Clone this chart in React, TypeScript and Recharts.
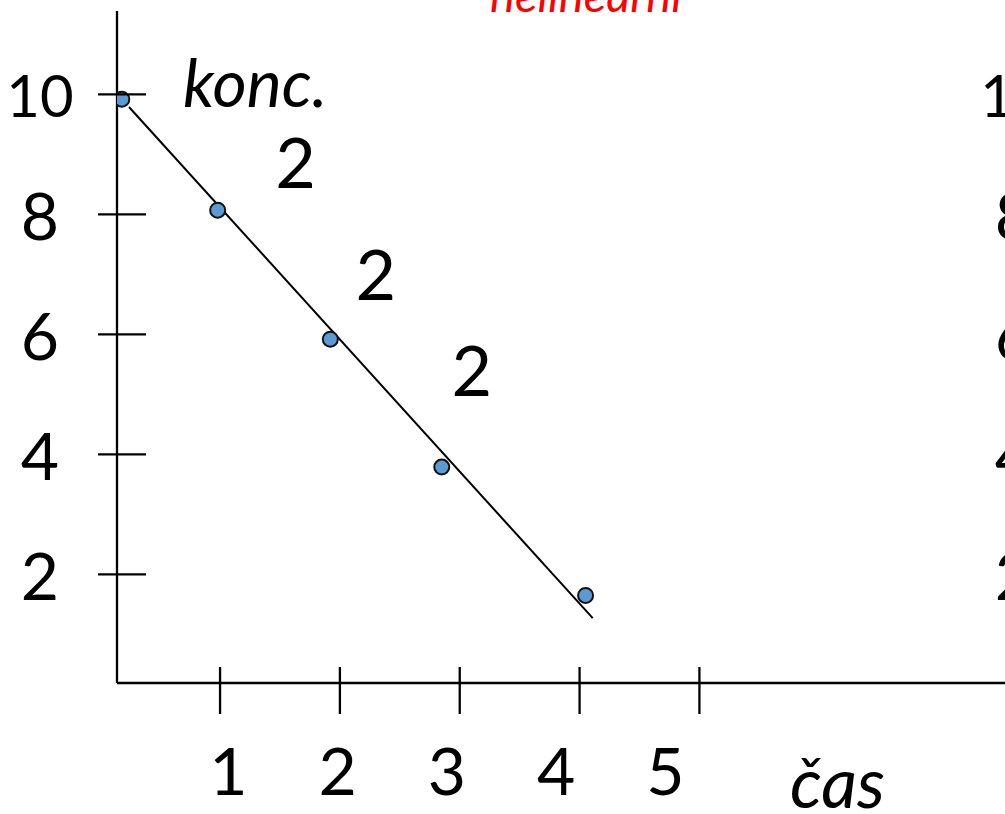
import { ScatterChart, Scatter, XAxis, YAxis, ReferenceLine, ReferenceDot } from 'recharts';

const FONT = "Lato, 'Open Sans', sans-serif";

// axis ticks
const timeTicks = [1, 2, 3, 4, 5];
const concTicks = [2, 4, 6, 8, 10];

// measured concentration over time
const times = [0.18, 0.98, 1.92, 2.85, 4.05];
const concentrations = [9.92, 8.07, 5.92, 3.79, 1.65];

// hand-fitted straight line through the points (start, end)
const fitTimes = [0.24, 4.11];
const fitConcs = [9.79, 1.27];

// concentration drop per step, written next to the line
const stepLabels = ['2', '2', '2'];
const stepTimes = [1.63, 2.3, 3.1];
const stepConcs = [8.85, 6.99, 5.39];

const points = times.map((t, i) => ({ t, c: concentrations[i] }));
const fitSegment = fitTimes.map((t, i) => ({ x: t, y: fitConcs[i] }));
// the number row under the time axis has its own spacing; give that axis its values
const labelAnchors = timeTicks.map((t) => ({ t, c: 1 }));

const AXIS_STROKE = { stroke: '#000', strokeWidth: 2.3 };

// axis ids: 0 = time axis with tick marks, 1 = its number labels
const TIME_AXIS = 0;
const TIME_LABEL_AXIS = 1;

const ConcTick = (props: any) => {
  const { x, y, payload } = props;
  const label = String(payload.value);
  const size = label.length > 1 ? 58 : 66;
  return (
    <g>
      <line x1={x - 19} x2={x + 29} y1={y} y2={y} {...AXIS_STROKE} />
      <text x={x - 77} y={y + size * 0.358 + 2} textAnchor="middle" fontSize={size} fontFamily={FONT} fill="#000">
        {label}
      </text>
    </g>
  );
};

// labels of the neighbouring chart, cut by the right edge
const NextConcTick = (props: any) => {
  const { x, y, payload } = props;
  const label = String(payload.value);
  const size = label.length > 1 ? 58 : 66;
  return (
    <text x={x + 9} y={y + size * 0.358 + 2} textAnchor="middle" fontSize={size} fontFamily={FONT} fill="#000">
      {label}
    </text>
  );
};

const TimeTick = (props: any) => {
  const { x, y } = props;
  return <line x1={x} x2={x} y1={y - 16} y2={y + 31} {...AXIS_STROKE} />;
};

const TimeLabel = (props: any) => {
  const { x, y, payload } = props;
  return (
    <text x={x} y={y + 72} textAnchor="middle" fontSize={66} fontFamily={FONT} fill="#000">
      {payload.value}
    </text>
  );
};

const renderPoint = (props: any) => (
  <circle cx={props.cx} cy={props.cy} r={7.5} fill="#5b9bd5" stroke="#111" strokeWidth={2} />
);

const renderNothing = () => <g />;

export default function App() {
  return (
    <div style={{ position: 'absolute', left: 0, top: 0, width: 1005, height: 814, background: '#fff', overflow: 'hidden' }}>
      <ScatterChart width={1005} height={814} margin={{ top: 11, right: -1, bottom: 0, left: 0 }}>
        <XAxis
          xAxisId={TIME_AXIS}
          type="number"
          dataKey="t"
          domain={[0.14, 7.55]}
          allowDataOverflow
          ticks={timeTicks}
          interval={0}
          height={40}
          axisLine={AXIS_STROKE}
          tickLine={false}
          tickSize={0}
          tickMargin={0}
          tick={TimeTick}
        />
        <XAxis
          xAxisId={TIME_LABEL_AXIS}
          type="number"
          dataKey="t"
          domain={[-0.02, 8.11]}
          allowDataOverflow
          ticks={timeTicks}
          interval={0}
          height={91}
          axisLine={false}
          tickLine={false}
          tickSize={0}
          tickMargin={0}
          tick={TimeLabel}
        />
        <YAxis
          yAxisId="conc"
          type="number"
          dataKey="c"
          domain={[0.19, 11.39]}
          allowDataOverflow
          ticks={concTicks}
          interval={0}
          width={117}
          axisLine={AXIS_STROKE}
          tickLine={false}
          tickSize={0}
          tickMargin={0}
          tick={ConcTick}
        />
        <YAxis
          yAxisId="next"
          orientation="right"
          type="number"
          domain={[0.19, 11.39]}
          allowDataOverflow
          ticks={concTicks}
          interval={0}
          width={1}
          axisLine={false}
          tickLine={false}
          tickSize={0}
          tickMargin={0}
          tick={NextConcTick}
        />
        <ReferenceLine
          xAxisId={TIME_AXIS}
          yAxisId="conc"
          segment={fitSegment}
          stroke="#000"
          strokeWidth={2}
          ifOverflow="visible"
        />
        <Scatter xAxisId={TIME_AXIS} yAxisId="conc" data={points} shape={renderPoint} isAnimationActive={false} />
        <Scatter xAxisId={TIME_LABEL_AXIS} yAxisId="conc" data={labelAnchors} shape={renderNothing} isAnimationActive={false} />
        {stepLabels.map((label, i) => (
          <ReferenceDot
            key={`step-${i}`}
            xAxisId={TIME_AXIS}
            yAxisId="conc"
            x={stepTimes[i]}
            y={stepConcs[i]}
            r={0}
            fill="none"
            stroke="none"
            label={{ value: label, position: 'center', fontSize: 70, fontFamily: FONT, fill: '#000' }}
          />
        ))}
      </ScatterChart>
      <svg width={1005} height={814} style={{ position: 'absolute', left: 0, top: 0, pointerEvents: 'none' }}>
        <text x={490} y={12} fontSize={47} fontStyle="italic" fontFamily={FONT} fill="#ff0000">
          nelineární
        </text>
        <text x={183} y={107} fontSize={66} fontStyle="italic" fontFamily={FONT} fill="#000">
          konc.
        </text>
        <text x={790} y={808} fontSize={70} fontStyle="italic" fontFamily={FONT} fill="#000">
          čas
        </text>
      </svg>
    </div>
  );
}
